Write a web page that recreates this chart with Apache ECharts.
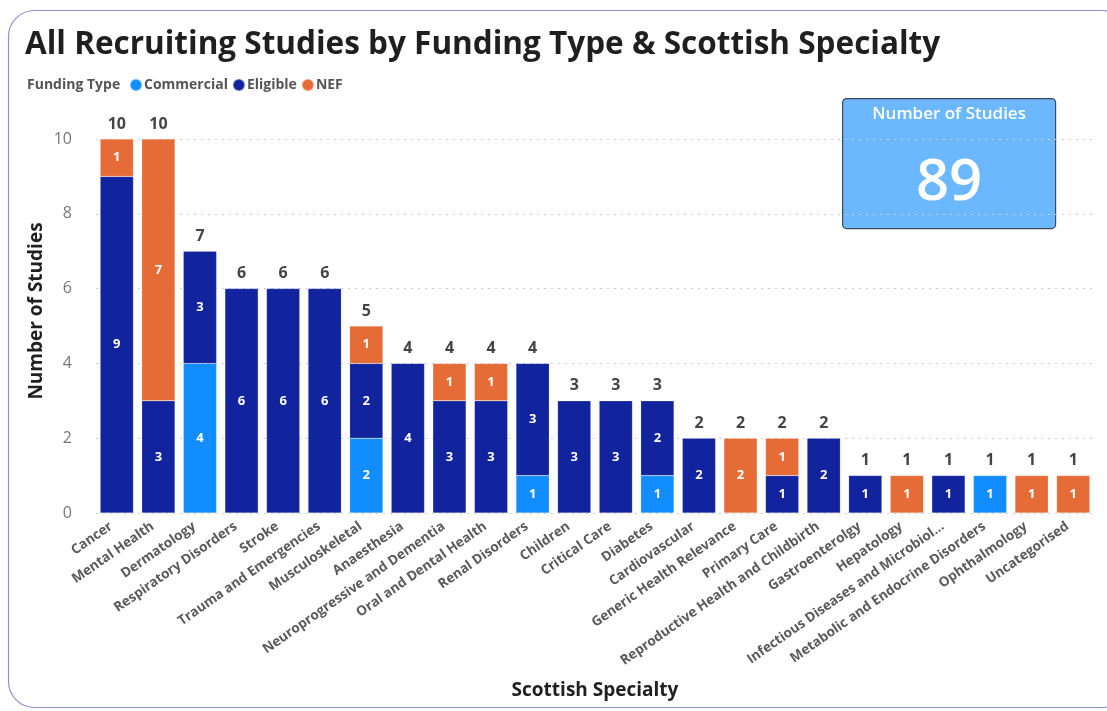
<!DOCTYPE html>
<html>
<head>
<meta charset="utf-8">
<script src="https://cdn.jsdelivr.net/npm/echarts@6/dist/echarts.min.js"></script>
<style>
  html, body { margin: 0; padding: 0; background: #ffffff; }
  #chart { width: 1107px; height: 711px; }
</style>
</head>
<body>
<div id="chart"></div>
<script>
// Specialties in display order (sorted by total number of studies)
const specialties = [
  'Cancer', 'Mental Health', 'Dermatology', 'Respiratory Disorders', 'Stroke',
  'Trauma and Emergencies', 'Musculoskeletal', 'Anaesthesia',
  'Neuroprogressive and Dementia', 'Oral and Dental Health', 'Renal Disorders',
  'Children', 'Critical Care', 'Diabetes', 'Cardiovascular',
  'Generic Health Relevance', 'Primary Care', 'Reproductive Health and Childbirth',
  'Gastroenterolgy', 'Hepatology', 'Infectious Diseases and Microbiol...',
  'Metabolic and Endocrine Disorders', 'Ophthalmology', 'Uncategorised'
];

// Study counts per funding type (null = none)
const commercial = [null, null, 4, null, null, null, 2, null, null, null, 1, null, null, 1, null, null, null, null, null, null, null, 1, null, null];
const eligible   = [9, 3, 3, 6, 6, 6, 2, 4, 3, 3, 3, 3, 3, 2, 2, null, 1, 2, 1, null, 1, null, null, null];
const nef        = [1, 7, null, null, null, null, 1, null, 1, 1, null, null, null, null, null, 2, 1, null, null, 1, null, null, 1, 1];

const yTicks = [0, 2, 4, 6, 8, 10];

const totals = specialties.map((_, i) =>
  (commercial[i] || 0) + (eligible[i] || 0) + (nef[i] || 0));
const grandTotal = totals.reduce((a, b) => a + b, 0);

const FONT = '"Open Sans", "Noto Sans", sans-serif';
const COLORS = { Commercial: '#118DFF', Eligible: '#12239E', NEF: '#E66C37' };

const chart = echarts.init(document.getElementById('chart'), null, { renderer: 'canvas' });

const segLabel = {
  show: true,
  position: 'inside',
  color: '#ffffff',
  fontFamily: FONT,
  fontWeight: 'bold',
  fontSize: 13
};

function stackSeries(name, data) {
  return {
    name: name,
    type: 'bar',
    stack: 'funding',
    data: data,
    barCategoryGap: '20%',
    itemStyle: { color: COLORS[name], borderColor: 'rgba(255,255,255,0.35)', borderWidth: 0.5 },
    label: segLabel,
    emphasis: { disabled: true }
  };
}

chart.setOption({
  animation: false,
  backgroundColor: '#ffffff',
  title: [
    {
      text: 'All Recruiting Studies by Funding Type & Scottish Specialty',
      left: 20, top: 24,
      textStyle: { fontFamily: FONT, fontWeight: 'bold', fontSize: 31.5, color: '#1f1f1f' }
    },
    {
      text: 'Funding Type',
      left: 22, top: 73,
      textStyle: { fontFamily: FONT, fontWeight: 'bold', fontSize: 14, color: '#555555' }
    }
  ],
  legend: {
    left: 124, top: 73,
    icon: 'circle',
    itemWidth: 12, itemHeight: 12, itemGap: 4,
    data: ['Commercial', 'Eligible', 'NEF'],
    textStyle: { fontFamily: FONT, fontWeight: 'bold', fontSize: 14, color: '#555555', padding: [0, 0, 0, -3] }
  },
  grid: { left: 96, right: 13, top: 139, bottom: 198 },
  xAxis: {
    type: 'category',
    data: specialties,
    name: 'Scottish Specialty',
    nameLocation: 'middle',
    nameGap: 168,
    nameTextStyle: { fontFamily: FONT, fontWeight: 'bold', fontSize: 19, color: '#1f1f1f' },
    axisLine: { show: false },
    axisTick: { show: false },
    axisLabel: {
      interval: 0,
      rotate: 35,
      margin: 8,
      padding: [0, 7, 0, 0],
      fontFamily: FONT,
      fontWeight: 'bold',
      fontSize: 13.5,
      color: '#5a5a5a'
    }
  },
  yAxis: {
    type: 'value',
    min: 0, max: 10, interval: 2,
    axisLine: { show: false },
    axisTick: { show: false },
    axisLabel: {
      margin: 24,
      fontFamily: FONT, fontSize: 16, color: '#777777',
      formatter: v => (yTicks.includes(v) ? String(v) : '')
    },
    splitLine: { lineStyle: { color: '#cfcfcf', type: [2, 5], width: 1 } }
  },
  series: [
    stackSeries('Commercial', commercial),
    stackSeries('Eligible', eligible),
    stackSeries('NEF', nef),
    {
      name: 'Total',
      type: 'bar',
      data: totals,
      barGap: '-100%',
      barCategoryGap: '20%',
      z: 1,
      itemStyle: { color: 'rgba(0,0,0,0)' },
      label: {
        show: true,
        position: 'top',
        distance: 7,
        color: '#444444',
        fontFamily: FONT,
        fontWeight: 'bold',
        fontSize: 16
      },
      emphasis: { disabled: true },
      tooltip: { show: false }
    }
  ],
  graphic: [
    {
      type: 'rect',
      shape: { x: 8.5, y: 10.5, width: 1120, height: 697, r: 26 },
      style: { fill: null, stroke: '#8f8fd6', lineWidth: 1.2 },
      z: -10, silent: true
    },
    {
      // y-axis title
      type: 'text',
      x: 37, y: 311,
      rotation: Math.PI / 2,
      style: {
        text: 'Number of Studies',
        align: 'center', verticalAlign: 'middle',
        fill: '#1f1f1f', font: 'bold 19px ' + FONT
      }
    },
    {
      type: 'group',
      left: 842, top: 98,
      children: [
        {
          type: 'rect',
          shape: { x: 0, y: 0, width: 213, height: 130, r: 4 },
          style: { fill: '#6CB8FF', stroke: '#3a4a5a', lineWidth: 1.2 }
        },
        {
          type: 'text',
          style: {
            x: 106.5, y: 16, text: 'Number of Studies',
            align: 'center', verticalAlign: 'middle',
            fill: '#ffffff', font: '600 17px ' + FONT
          }
        },
        {
          type: 'text',
          style: {
            x: 106.5, y: 85, text: String(grandTotal),
            align: 'center', verticalAlign: 'middle',
            fill: '#ffffff', font: '600 58px ' + FONT
          }
        }
      ]
    }
  ]
});
</script>
</body>
</html>
